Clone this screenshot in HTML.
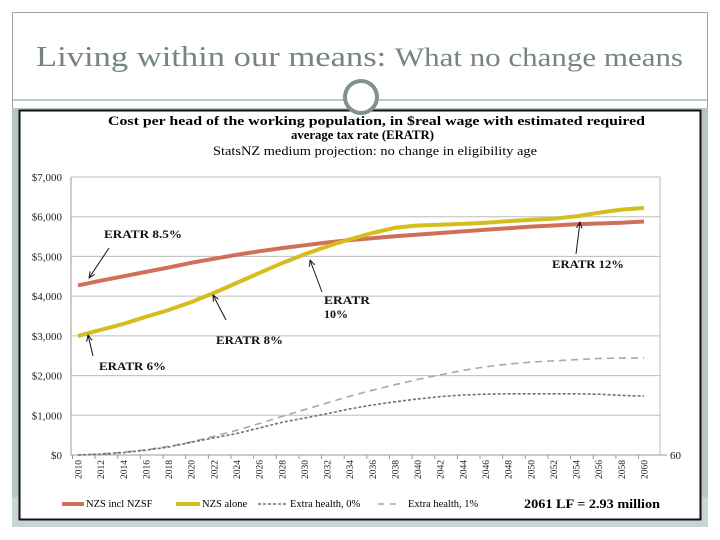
<!DOCTYPE html>
<html><head><meta charset="utf-8"><style>
html,body{margin:0;padding:0;background:#fff;width:720px;height:540px;overflow:hidden;font-family:"Liberation Serif",serif}
</style></head><body>
<svg width="720" height="540" viewBox="0 0 720 540" xmlns="http://www.w3.org/2000/svg">
<defs><marker id="ah" viewBox="0 0 10 10" refX="9" refY="5" markerWidth="7" markerHeight="7" orient="auto"><path d="M0,1 L9,5 L0,9" fill="none" stroke="#111" stroke-width="1.4"/></marker></defs>
<rect x="12.5" y="12.5" width="695" height="514" fill="#fff" stroke="#9aa8a8"/>
<text x="36" y="66" font-size="29" fill="#74857f" textLength="647" lengthAdjust="spacingAndGlyphs" font-family="Liberation Serif,serif">Living within our means: <tspan font-size="26">What no change means</tspan></text>
<line x1="12" y1="100" x2="708" y2="100" stroke="#9aa8a8" stroke-width="1.2"/>
<rect x="12" y="108" width="696" height="419" fill="#b9c6c8"/>
<rect x="12" y="497" width="696" height="30" fill="#c9d4d6"/>
<rect x="19.5" y="110.5" width="681" height="409" fill="#fff" stroke="#111" stroke-width="2"/>
<circle cx="361" cy="97" r="16" fill="#fff" stroke="#7f9190" stroke-width="4"/>
<text x="108" y="125" font-size="13" font-weight="bold" textLength="537" lengthAdjust="spacingAndGlyphs">Cost per head of the working population, in $real wage with estimated required</text>
<text x="291" y="139" font-size="13" font-weight="bold" textLength="143" lengthAdjust="spacingAndGlyphs">average tax rate (ERATR)</text>
<text x="213" y="155" font-size="12.5" textLength="324" lengthAdjust="spacingAndGlyphs">StatsNZ medium projection:  no change in eligibility age</text>
<g id="grid"></g>
<g id="marks"></g>
<g font-size="12" font-weight="bold" fill="#111">
<text x="104" y="238" textLength="78" lengthAdjust="spacingAndGlyphs">ERATR 8.5%</text>
<line x1="109" y1="248" x2="89" y2="278" stroke="#111" marker-end="url(#ah)"/>
<text x="552" y="268" textLength="72" lengthAdjust="spacingAndGlyphs">ERATR 12%</text>
<line x1="576" y1="254" x2="580" y2="222" stroke="#111" marker-end="url(#ah)"/>
<text x="324" y="304" textLength="46" lengthAdjust="spacingAndGlyphs">ERATR</text>
<text x="324" y="318">10%</text>
<line x1="322" y1="292" x2="310" y2="260" stroke="#111" marker-end="url(#ah)"/>
<text x="216" y="344" textLength="67" lengthAdjust="spacingAndGlyphs">ERATR 8%</text>
<line x1="226" y1="320" x2="213" y2="295" stroke="#111" marker-end="url(#ah)"/>
<text x="99" y="370" textLength="67" lengthAdjust="spacingAndGlyphs">ERATR 6%</text>
<line x1="93" y1="356" x2="88" y2="335" stroke="#111" marker-end="url(#ah)"/>
</g>
<g font-size="10.5">
<line x1="62" y1="504" x2="84" y2="504" stroke="#d0705a" stroke-width="4"/>
<text x="86" y="507">NZS incl NZSF</text>
<line x1="176" y1="504" x2="200" y2="504" stroke="#d4bd1c" stroke-width="4"/>
<text x="202" y="507">NZS alone</text>
<line x1="258" y1="504" x2="288" y2="504" stroke="#7a6e6a" stroke-width="1.5" stroke-dasharray="3,2"/>
<text x="290" y="507">Extra health, 0%</text>
<line x1="378" y1="504" x2="402" y2="504" stroke="#9db09f" stroke-width="1.5" stroke-dasharray="6,6"/>
<text x="408" y="507">Extra health, 1%</text>
<text x="524" y="508" font-size="13" font-weight="bold" textLength="136" lengthAdjust="spacingAndGlyphs">2061 LF = 2.93 million</text>
</g>
</svg>
<script>
const years=[2010,2012,2014,2016,2018,2020,2022,2024,2026,2028,2030,2032,2034,2036,2038,2040,2042,2044,2046,2048,2050,2052,2054,2056,2058,2060];
const nzsInclNzsf=[4270,4390,4500,4610,4720,4840,4940,5040,5130,5210,5280,5350,5410,5460,5510,5550,5590,5630,5670,5710,5750,5780,5810,5830,5850,5880];
const nzsAlone=[3000,3150,3300,3480,3650,3850,4080,4330,4580,4830,5050,5250,5430,5590,5720,5780,5800,5820,5850,5890,5920,5950,6010,6100,6180,6220];
const extraHealth0=[0,20,60,120,200,320,430,540,680,820,930,1040,1160,1260,1340,1410,1470,1510,1530,1540,1540,1540,1540,1530,1500,1480];
const extraHealth1=[0,25,70,130,220,330,470,620,790,970,1140,1310,1480,1630,1770,1900,2020,2130,2220,2290,2340,2370,2400,2430,2440,2440];
const yTicks=[0,1000,2000,3000,4000,5000,6000,7000];
const yTickLabels=["$0","$1,000","$2,000","$3,000","$4,000","$5,000","$6,000","$7,000"];
const NS="http://www.w3.org/2000/svg";
const X0=78,X1=644,Y0=455,Y1=177,L=71,R=660;
const xs=y=>X0+(y-2010)*(X1-X0)/50;
const ys=v=>Y0-v*(Y0-Y1)/7000;
const grid=document.getElementById('grid'),marks=document.getElementById('marks');
function mk(t,a,p){const e=document.createElementNS(NS,t);for(const k in a)e.setAttribute(k,a[k]);p.appendChild(e);return e;}
yTicks.forEach((v,i)=>{
 const g=mk('line',{x1:L,x2:R,y1:ys(v),y2:ys(v),stroke:v===0?'#999':'#bdbdbd','stroke-width':1},grid);
 
 
 const t=mk('text',{x:62,y:ys(v)+4,'text-anchor':'end','font-size':11,fill:'#222'},grid);
 t.textContent=yTickLabels[i];
 
 
});
let ax=mk('line',{x1:L,x2:L,y1:Y1,y2:Y0,stroke:'#999'},grid);


let ax2=mk('line',{x1:R,x2:R,y1:Y1,y2:Y0,stroke:'#bbb'},grid);


let rt=mk('line',{x1:R,x2:667,y1:Y0,y2:Y0,stroke:'#999'},grid);


let r60=mk('text',{x:670,y:Y0+4,'font-size':11,fill:'#222'},grid);
r60.textContent='60';


years.forEach(yr=>{
 const x=xs(yr);
 const tk=mk('line',{x1:x-5.5,x2:x-5.5,y1:Y0,y2:Y0+4,stroke:'#999'},grid);
 
 
 const t=mk('text',{x:0,y:0,'font-size':9.5,fill:'#222','text-anchor':'end',transform:`translate(${x+3.5},${Y0+5}) rotate(-90)`},grid);
 t.textContent=yr;
 
 
});
function series(vals,attrs,name){
 const d=vals.map((v,i)=>(i?'L':'M')+xs(years[i]).toFixed(1)+','+ys(v).toFixed(1)).join(' ');
 const p=mk('path',Object.assign({d:d,fill:'none','stroke-linejoin':'round'},attrs),marks);
 
 
}
series(extraHealth1,{stroke:'#9db09f','stroke-width':1.6,'stroke-dasharray':'7,5'},'series-extra-health-1');
series(extraHealth0,{stroke:'#7a6e6a','stroke-width':1.6,'stroke-dasharray':'3,2'},'series-extra-health-0');
series(nzsInclNzsf,{stroke:'#d0705a','stroke-width':4},'series-nzs-incl-nzsf');
series(nzsAlone,{stroke:'#d4bd1c','stroke-width':4},'series-nzs-alone');
</script>
</body></html>
